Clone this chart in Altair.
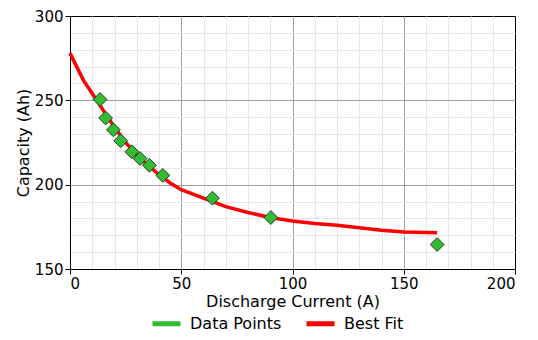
import altair as alt
import pandas as pd

# Measured data points
data_x = [13.5, 16, 19.5, 22.8, 27.8, 31.5, 35.7, 41.7, 64, 90.3, 165]
data_y = [250.5, 239.5, 232.5, 226, 219.5, 215.5, 211.5, 205.5, 192, 180.5, 164.5]

# Best fit curve
fit_x = [0, 3, 6, 10, 13.5, 17, 20, 25, 30, 35, 40, 45, 50, 60, 70, 80, 90, 100, 110, 120, 130, 140, 150, 165]
fit_y = [278, 270, 262, 254, 247, 240, 234, 225, 217.5, 211.5, 206, 201, 197, 192, 187, 183.5, 180.5, 178.5, 177, 176, 174.5, 173, 172, 171.5]

series = ["Data Points", "Best Fit"]
colors = ["#33bb33", "#ff0000"]

x_labels = [0, 50, 100, 150, 200]
y_labels = [150, 200, 250, 300]
x_major_grid = [50, 100, 150]
y_major_grid = [200, 250]
x_minor_grid = [v for v in range(10, 200, 10) if v % 50]
y_minor_grid = [v for v in range(160, 300, 10) if v % 50]

pts = pd.DataFrame({"x": data_x, "y": data_y, "s": "Data Points"})
fit = pd.DataFrame({"x": fit_x, "y": fit_y, "s": "Best Fit"})

FONT = "DejaVu Sans"
FS = 15
TFS = 16

def label_axis(vals, title, orient, tpad):
    return alt.Axis(
        values=vals, title=title, orient=orient, grid=False,
        tickSize=5, tickColor="#000", domainColor="#000",
        labelFont=FONT, labelFontSize=FS, labelColor="#000", labelOverlap=False,
        titleFont=FONT, titleFontSize=TFS, titleFontWeight="normal", titleColor="#000",
        titlePadding=tpad, labelPadding=2,
    )

def grid_axis(vals, orient, color):
    return alt.Axis(
        values=vals, title=None, orient=orient, grid=True,
        gridColor=color, gridOpacity=1,
        labels=False, ticks=False, domain=False,
    )

xs = alt.Scale(domain=[0, 200], nice=False)
ys = alt.Scale(domain=[150, 300], nice=False)
cs = alt.Scale(domain=series, range=colors)

legend = alt.Legend(
    title=None, orient="none", direction="horizontal",
    legendX=80, legendY=291,
    symbolType="stroke", symbolSize=784, symbolStrokeWidth=5,
    labelFont=FONT, labelFontSize=TFS, labelColor="#000",
    labelOffset=7, columnPadding=14, padding=0,
)

minor = alt.Chart(fit).mark_point(opacity=0).encode(
    x=alt.X("x:Q", scale=xs, axis=grid_axis(x_minor_grid, "bottom", "#ece4ec")),
    y=alt.Y("y:Q", scale=ys, axis=grid_axis(y_minor_grid, "left", "#ece4ec")),
)
majorg = alt.Chart(fit).mark_point(opacity=0).encode(
    x=alt.X("x:Q", scale=xs, axis=grid_axis(x_major_grid, "bottom", "#a0a0a0")),
    y=alt.Y("y:Q", scale=ys, axis=grid_axis(y_major_grid, "left", "#a0a0a0")),
)
line = alt.Chart(fit).mark_line(strokeWidth=3.5).encode(
    x=alt.X("x:Q", scale=xs, axis=label_axis(x_labels, "Discharge Current (A)", "bottom", 2)),
    y=alt.Y("y:Q", scale=ys, axis=label_axis(y_labels, "Capacity (Ah)", "left", 3)),
    color=alt.Color("s:N", scale=cs, legend=legend),
)
points = alt.Chart(pts).mark_point(shape="diamond", filled=True, size=190, opacity=1,
                                   stroke="#1f3f1f", strokeWidth=1).encode(
    x=alt.X("x:Q", scale=xs, axis=None),
    y=alt.Y("y:Q", scale=ys, axis=None),
    color=alt.Color("s:N", scale=cs, legend=legend),
)

chart = alt.layer(minor, majorg, line, points).resolve_axis(
    x="independent", y="independent"
).properties(
    width=445, height=253,
    autosize=alt.AutoSizeParams(type="none"),
    padding={"left": 62, "top": 8, "right": 15, "bottom": 63},
    background="white",
).configure_view(stroke="#000", strokeWidth=1)

chart.save("out.html", embed_options={"renderer": "svg", "actions": False})
